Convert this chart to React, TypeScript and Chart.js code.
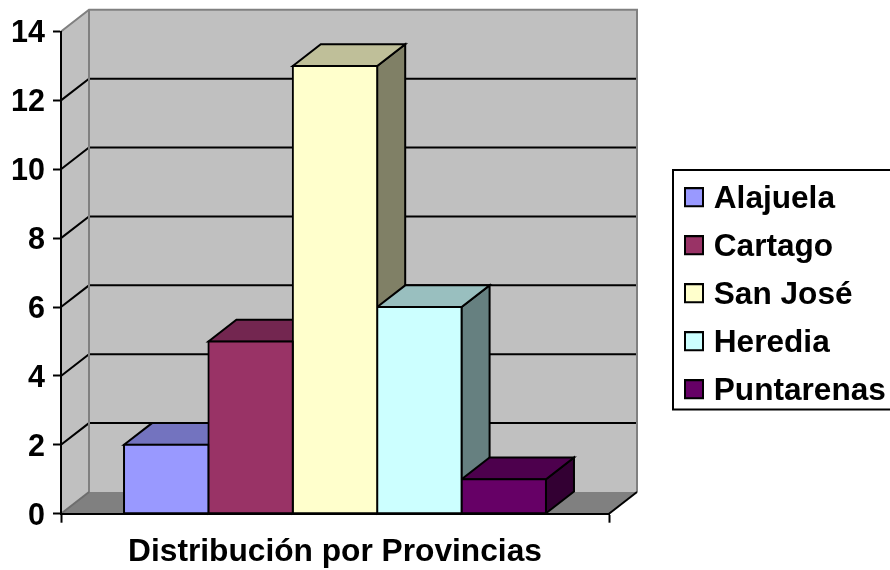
import React, { useEffect, useRef } from "react";
import { Chart, registerables } from "chart.js";

Chart.register(...registerables);

const categories = ["Distribución por Provincias"];
const provinces = ["Alajuela", "Cartago", "San José", "Heredia", "Puntarenas"];
const counts = [2, 5, 13, 6, 1];
const frontColors = ["#9999FF", "#993366", "#FFFFCC", "#CCFFFF", "#660066"];
const topColors = ["#7373BF", "#732650", "#BFBF99", "#99BFBF", "#4D004D"];
const sideColors = ["#4D4D80", "#4D1A33", "#808066", "#668080", "#330033"];
const yTicks = { min: 0, max: 14, stepSize: 2 };

const DEPTH_X = 28;
const DEPTH_Y = 21.7;
const FONT_FAMILY = '"Liberation Sans", Arial, sans-serif';
const LEGEND_FONT = { family: FONT_FAMILY, size: 31.6, weight: "bold" as const };
const TITLE_FONT = { family: FONT_FAMILY, size: 31.7, weight: "bold" as const };
const AXIS_FONT = { family: FONT_FAMILY, size: 30.5, weight: "bold" as const };
const LEGEND_BOX = { left: 673, top: 170, right: 896, bottom: 409.5 };

function swatch(color: string) {
  // 20px square kept in the upper part of the image, so it lines up with the text's visual centre
  const c = document.createElement("canvas");
  c.width = 20;
  c.height = 24;
  const g = c.getContext("2d") as CanvasRenderingContext2D;
  g.fillStyle = "#000000";
  g.fillRect(0, 0, 20, 20);
  g.fillStyle = color;
  g.fillRect(2, 2, 16, 16);
  return c;
}

function poly(ctx: CanvasRenderingContext2D, pts: number[][], fill: string | null, stroke: string | null, lw = 2) {
  ctx.beginPath();
  pts.forEach((p, i) => (i ? ctx.lineTo(p[0], p[1]) : ctx.moveTo(p[0], p[1])));
  if (fill) {
    ctx.closePath();
    ctx.fillStyle = fill;
    ctx.fill();
  }
  if (stroke) {
    ctx.strokeStyle = stroke;
    ctx.lineWidth = lw;
    ctx.stroke();
  }
}

const scene3d = {
  id: "scene3d",
  afterLayout(chart: any) {
    const l = chart.legend;
    const pad = l.options.labels.padding;
    const w = l.width;
    const h = l.height;
    l.left = 690 - pad;
    l.right = l.left + w;
    l.top = 167;
    l.bottom = l.top + h;
  },
  beforeDraw(chart: any) {
    const { ctx, chartArea: a } = chart;
    const y = chart.scales.y;
    const L = a.left, R = a.right, T = a.top, B = a.bottom;
    const dx = DEPTH_X, dy = DEPTH_Y;
    ctx.save();
    poly(ctx, [[L, T], [L + dx, T - dy], [R + dx, T - dy], [R + dx, B - dy], [L + dx, B - dy], [L, B]], "#C0C0C0", null);
    poly(ctx, [[L, B], [L + dx, B - dy], [R + dx, B - dy], [R, B]], "#808080", null);
    for (const t of y.ticks) {
      if (t.value === yTicks.min || t.value === yTicks.max) continue;
      const py = y.getPixelForValue(t.value);
      poly(ctx, [[L, py], [L + dx, py - dy], [R + dx, py - dy]], null, "#000000");
    }
    poly(ctx, [[L, T], [L + dx, T - dy], [R + dx, T - dy], [R + dx, B - dy]], null, "#808080");
    poly(ctx, [[L + dx, T - dy], [L + dx, B - dy]], null, "#808080");
    poly(ctx, [[L, B], [L + dx, B - dy]], null, "#6E6E6E", 2);
    poly(ctx, [[R, B], [R + dx, B - dy]], null, "#000000", 2);
    ctx.restore();
  },
  beforeDatasetsDraw(chart: any) {
    const { ctx } = chart;
    const dx = DEPTH_X, dy = DEPTH_Y;
    ctx.save();
    chart.data.datasets.forEach((_: any, i: number) => {
      const bar = chart.getDatasetMeta(i).data[0];
      const hw = bar.width / 2;
      const x0 = bar.x - hw, x1 = bar.x + hw, top = bar.y, base = bar.base;
      poly(ctx, [[x1, top], [x1 + dx, top - dy], [x1 + dx, base - dy], [x1, base]], sideColors[i], "#000000");
      poly(ctx, [[x0, top], [x0 + dx, top - dy], [x1 + dx, top - dy], [x1, top]], topColors[i], "#000000");
    });
    ctx.restore();
  },
  afterDraw(chart: any) {
    const { ctx } = chart;
    ctx.save();
    ctx.strokeStyle = "#000000";
    ctx.lineWidth = 2;
    ctx.strokeRect(LEGEND_BOX.left, LEGEND_BOX.top, LEGEND_BOX.right - LEGEND_BOX.left, LEGEND_BOX.bottom - LEGEND_BOX.top);
    ctx.restore();
  },
};

export default function App() {
  const ref = useRef<HTMLCanvasElement>(null);
  useEffect(() => {
    const chart = new Chart(ref.current as HTMLCanvasElement, {
      type: "bar",
      data: {
        labels: categories,
        datasets: provinces.map((name, i) => ({
          label: name,
          data: [counts[i]],
          backgroundColor: frontColors[i],
          borderColor: "#000000",
          borderWidth: 2,
          borderSkipped: false,
          inflateAmount: 1,
          categoryPercentage: 0.77,
          barPercentage: 1,
          pointStyle: swatch(frontColors[i]),
        })),
      },
      options: {
        responsive: false,
        animation: false,
        layout: { padding: { left: 0, top: 31.5, right: 281, bottom: 0 } },
        plugins: {
          tooltip: { enabled: false },
          title: { display: false },
          legend: {
            display: true,
            position: "chartArea",
            align: "start",
            labels: {
              color: "#000000",
              font: LEGEND_FONT,
              padding: 16.4,
              usePointStyle: true,
              boxWidth: 8,
              boxHeight: 18,
            },
          },
        },
        scales: {
          x: {
            offset: true,
            afterFit(s: any) { s.height = 56.3; },
            border: { display: true, color: "#000000", width: 2 },
            grid: { display: true, offset: true, drawOnChartArea: false, drawTicks: true, tickLength: 9, tickWidth: 2, tickColor: "#000000", color: "#000000" },
            ticks: { color: "#000000", font: TITLE_FONT, padding: 11, maxRotation: 0, autoSkip: false },
          },
          y: {
            min: yTicks.min,
            max: yTicks.max,
            afterFit(s: any) { s.width = 61; },
            border: { display: true, color: "#000000", width: 2 },
            grid: { display: true, drawOnChartArea: false, drawTicks: true, tickLength: 8, tickWidth: 2, tickColor: "#000000", color: "#000000" },
            ticks: { color: "#000000", font: AXIS_FONT, padding: 8, stepSize: yTicks.stepSize, labelOffset: 2.5 },
          },
        },
      } as any,
      plugins: [scene3d],
    });
    return () => chart.destroy();
  }, []);
  return (
    <canvas
      ref={ref}
      width={890}
      height={570}
      style={{ position: "absolute", left: 0, top: 0, display: "block" }}
    />
  );
}
